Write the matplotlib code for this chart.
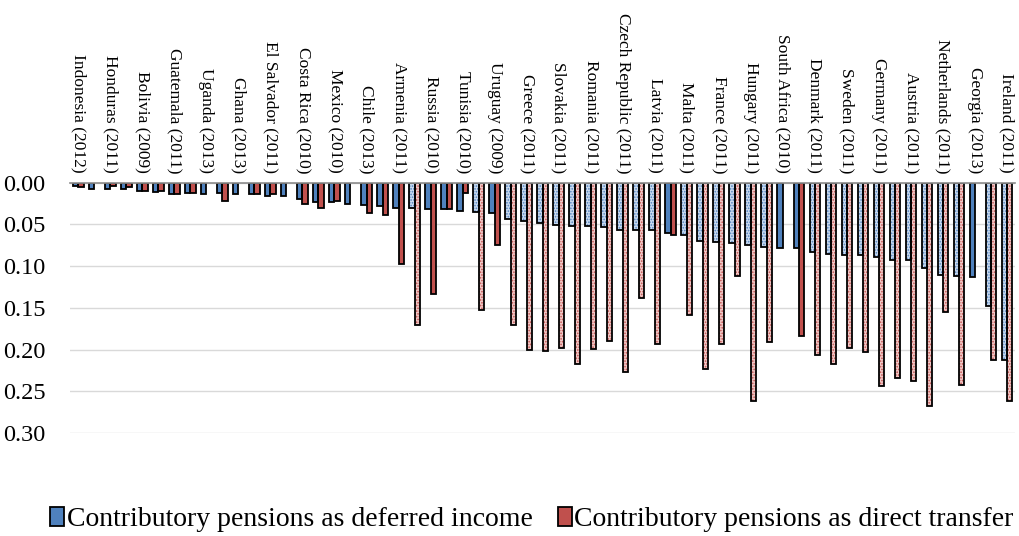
import numpy as np
import matplotlib.pyplot as plt
from matplotlib.patches import Patch

# labels shown on every other category (the chart skips alternate labels)
shown_labels = [
    "Indonesia (2012)", "Honduras (2011)", "Bolivia (2009)", "Guatemala (2011)",
    "Uganda (2013)", "Ghana (2013)", "El Salvador (2011)", "Costa Rica (2010)",
    "Mexico (2010)", "Chile (2013)", "Armenia (2011)", "Russia (2010)",
    "Tunisia (2010)", "Uruguay (2009)", "Greece (2011)", "Slovakia (2011)",
    "Romania (2011)", "Czech Republic (2011)", "Latvia (2011)", "Malta (2011)",
    "France (2011)", "Hungary (2011)", "South Africa (2010)", "Denmark (2011)",
    "Sweden (2011)", "Germany (2011)", "Austria (2011)", "Netherlands (2011)",
    "Georgia (2013)", "Ireland (2011)",
]

deferred = [0.004, 0.007, 0.007, 0.007, 0.010, 0.011, 0.013, 0.012, 0.013, 0.012,
            0.014, 0.014, 0.016, 0.016, 0.019, 0.023, 0.023, 0.025, 0.027, 0.028,
            0.030, 0.030, 0.032, 0.032, 0.034, 0.035, 0.036, 0.043, 0.046, 0.048,
            0.051, 0.052, 0.052, 0.053, 0.056, 0.056, 0.057, 0.060, 0.062, 0.070,
            0.071, 0.072, 0.074, 0.077, 0.078, 0.078, 0.083, 0.085, 0.086, 0.086,
            0.089, 0.093, 0.093, 0.102, 0.111, 0.112, 0.113, 0.148, 0.213]

direct = [0.005, 0.0, 0.004, 0.005, 0.010, 0.010, 0.013, 0.012, 0.0, 0.022,
          0.0, 0.014, 0.013, 0.0, 0.025, 0.030, 0.022, 0.0, 0.036, 0.039,
          0.097, 0.170, 0.133, 0.032, 0.012, 0.153, 0.074, 0.170, 0.200, 0.202,
          0.198, 0.217, 0.199, 0.190, 0.227, 0.138, 0.193, 0.062, 0.159, 0.223,
          0.193, 0.112, 0.261, 0.191, 0.0, 0.184, 0.206, 0.217, 0.198, 0.203,
          0.244, 0.234, 0.237, 0.268, 0.155, 0.242, 0.0, 0.212, 0.262]

# 1 = drawn with the dotted pattern fill, 0 = solid fill
patterned = [0] * 21 + [1, 0, 0, 0, 1, 0] + [1] * 10 + [0] + [1] * 6 + [0, 0] + [1] * 10 + [0, 1, 1]

blue = "#4F81BD"
red = "#C0504D"
tint = {blue: "#C9D9EE", red: "#F0C8C7"}

plt.rcParams["font.family"] = ["Liberation Serif", "DejaVu Serif"]
plt.rcParams["hatch.linewidth"] = 0.8

fig = plt.figure(figsize=(10.19, 5.36), dpi=100)
ax = fig.add_axes([0.069, 0.192, 0.927, 0.467])

x = np.arange(len(deferred))
w = 0.33

for vals, col, off in [(deferred, blue, -w / 2), (direct, red, w / 2)]:
    for i, v in enumerate(vals):
        if v <= 0:
            continue
        if patterned[i]:
            ax.bar(x[i] + off, v, w, color=tint[col], edgecolor=col, hatch="......",
                   linewidth=0, zorder=3)
        else:
            ax.bar(x[i] + off, v, w, color=col, linewidth=0, zorder=3)
        ax.bar(x[i] + off, v, w, fill=False, edgecolor="black", linewidth=1.3, zorder=4)

ax.set_xlim(-0.5, len(deferred) - 0.5)
ax.set_ylim(0.30, 0)
ticks = np.arange(0, 0.301, 0.05)
ax.set_yticks(ticks)
ax.set_yticklabels([f"{t:.2f}" for t in ticks], fontsize=17.5)
ax.tick_params(axis="y", length=0, pad=18)

ax.xaxis.tick_top()
ax.set_xticks(x[::2])
ax.set_xticklabels(shown_labels, rotation=270, fontsize=12.5)
ax.tick_params(axis="x", length=0, pad=7)

ax.grid(axis="y", color="#D9D9D9", linewidth=1, zorder=0)
for s in ["left", "right", "bottom"]:
    ax.spines[s].set_visible(False)
ax.spines["top"].set_color("#8C8C8C")
ax.spines["top"].set_linewidth(1.2)
ax.spines["top"].set_zorder(5)

handles = [Patch(facecolor=blue, edgecolor="black", linewidth=1.3),
           Patch(facecolor=red, edgecolor="black", linewidth=1.3)]
fig.legend(handles, ["Contributory pensions as deferred income",
                     "Contributory pensions as direct transfer"],
           loc="lower center", bbox_to_anchor=(0.522, -0.04), ncol=2, frameon=False,
           fontsize=20, handlelength=0.5, handleheight=0.7, handletextpad=0.1,
           columnspacing=0.9)

fig.savefig("out.png", dpi=100)
